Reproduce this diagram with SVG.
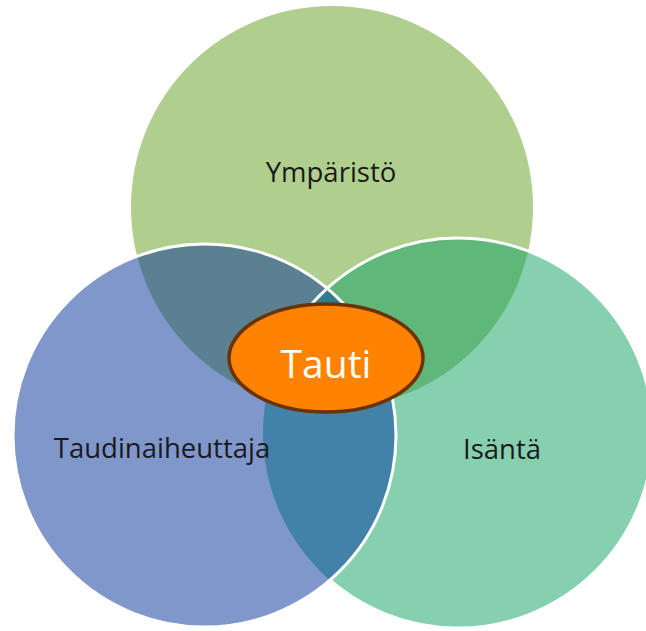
<svg xmlns="http://www.w3.org/2000/svg" width="646" height="631" viewBox="0 0 646 631">
  <defs>
    <clipPath id="cTop"><circle cx="332" cy="207" r="201"/></clipPath>
    <clipPath id="cLeft"><circle cx="204.5" cy="435.5" r="191.5"/></clipPath>
    <clipPath id="cRight"><circle cx="458" cy="433" r="195"/></clipPath>
    <clipPath id="cRightStroke">
      <circle cx="332" cy="207" r="201"/>
      <path clip-rule="evenodd" d="M-10,-10H660V640H-10Z M13,435.5a191.5,191.5 0 1,0 383,0a191.5,191.5 0 1,0 -383,0Z"/>
    </clipPath>
    <style>
      .outline { fill: none; stroke: #ffffff; stroke-width: 3; }
      .label { font-family: "Open Sans", "Noto Sans", "Liberation Sans", sans-serif; font-size: 27.5px; fill: #1a1a1a; text-anchor: middle; }
      .center-label { font-family: "Open Sans", "Noto Sans", "Liberation Sans", sans-serif; font-size: 39px; fill: #ffffff; text-anchor: middle; }
    </style>
  </defs>
  <rect width="646" height="631" fill="#ffffff"/>

  <g id="node-ymparisto">
    <circle cx="332" cy="207" r="201" fill="#B0CF8E"/>
  </g>
  <g id="node-isanta">
    <circle cx="458" cy="433" r="195" fill="#86CFAF"/>
  </g>
  <g id="node-taudinaiheuttaja">
    <circle cx="204.5" cy="435.5" r="191.5" fill="#7F97CB"/>
  </g>

  <g id="overlaps">
    <circle cx="204.5" cy="435.5" r="191.5" fill="#5A8092" clip-path="url(#cTop)"/>
    <circle cx="458" cy="433" r="195" fill="#5FB87A" clip-path="url(#cTop)"/>
    <circle cx="204.5" cy="435.5" r="191.5" fill="#4281A8" clip-path="url(#cRight)"/>
    <g clip-path="url(#cLeft)">
      <circle cx="458" cy="433" r="195" fill="#2F7B8F" clip-path="url(#cTop)"/>
    </g>
  </g>

  <g id="outlines">
    <circle class="outline" cx="458" cy="433" r="195" clip-path="url(#cRightStroke)"/>
    <circle class="outline" cx="204.5" cy="435.5" r="191.5"/>
  </g>

  <g id="labels">
    <text class="label" x="331" y="182">Ympäristö</text>
    <text class="label" x="162" y="458">Taudinaiheuttaja</text>
    <text class="label" x="502" y="459">Isäntä</text>
  </g>

  <g id="node-tauti">
    <ellipse cx="326" cy="358" rx="97" ry="54" fill="#FF8300" stroke="#6B3304" stroke-width="3.5"/>
    <text class="center-label" x="326" y="378">Tauti</text>
  </g>
</svg>
